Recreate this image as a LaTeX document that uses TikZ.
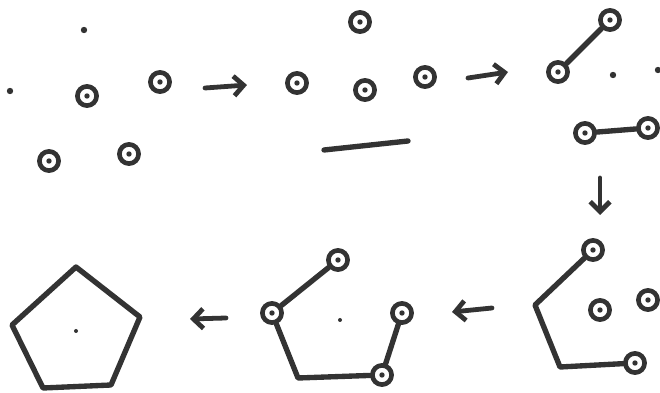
\documentclass[tikz,border=0pt]{standalone}
\usetikzlibrary{arrows.meta, positioning, calc}

\begin{document}
\begin{tikzpicture}[
  x=0.025cm, y=-0.025cm,
  line cap=round, line join=round,
  ink/.style={draw=black!80},
  ring/.style={circle, ink, line width=3.3pt, minimum size=0.48cm, inner sep=0pt,
               path picture={\fill[black!80] (path picture bounding box.center) circle (1.9pt);}},
  speck/.style={circle, fill=black!80, inner sep=0pt, minimum size=0.16cm},
  bond/.style={ink, line width=3.8pt},
  go/.style={ink, line width=3.4pt, -{Straight Barb[length=7pt, width=14pt]}}
]
\useasboundingbox (0,0) rectangle (660,393);

%--------------------------------------------------------------
% Stadio 1: punti sparsi
%--------------------------------------------------------------
\node[speck] (s1a) at (84,30) {};
\node[speck] (s1b) at (10,91) {};
\node[ring] (r1a) at (87,96) {};
\node[ring] (r1b) at (160,82) {};
\node[ring] (r1c) at (49,161) {};
\node[ring] (r1d) at (129,154) {};

%--------------------------------------------------------------
% Stadio 2: selezione
%--------------------------------------------------------------
\node[ring] (r2a) at (360,22) {};
\node[ring] (r2b) at (297,83) {};
\node[ring] (r2c) at (365,90) {};
\node[ring] (r2d) at (425,77) {};
\coordinate (d2a) at (324,150);
\coordinate (d2b) at (408,141);
\draw[bond] (d2a) -- (d2b);

%--------------------------------------------------------------
% Stadio 3: prime coppie
%--------------------------------------------------------------
\node[ring] (r3a) at (610,20) {};
\node[ring] (r3b) at (558,72) {};
\node[speck] (s3a) at (613,75) {};
\node[speck] (s3b) at (658,70) {};
\node[ring] (r3c) at (585,133) {};
\node[ring] (r3d) at (648,128) {};
\draw[bond] (r3b) -- (r3a);
\draw[bond] (r3c) -- (r3d);

%--------------------------------------------------------------
% Stadio 4: catena aperta
%--------------------------------------------------------------
\node[ring] (r4a) at (593,250) {};
\coordinate (k4a) at (535,305);
\coordinate (k4b) at (560,367);
\node[ring] (r4b) at (635,363) {};
\node[ring] (r4c) at (600,310) {};
\node[ring] (r4d) at (648,300) {};
\draw[bond] (r4a) -- (k4a) -- (k4b) -- (r4b);

%--------------------------------------------------------------
% Stadio 5: catena quasi chiusa
%--------------------------------------------------------------
\node[ring] (r5a) at (338,260) {};
\node[ring] (r5b) at (272,313) {};
\coordinate (k5) at (298,378);
\node[ring] (r5c) at (382,375) {};
\node[ring] (r5d) at (402,313) {};
\node[speck, minimum size=0.1cm] (s5) at (340,320) {};
\draw[bond] (r5a) -- (r5b) -- (k5) -- (r5c) -- (r5d);

%--------------------------------------------------------------
% Stadio 6: pentagono
%--------------------------------------------------------------
\coordinate (p1) at (76,267);
\coordinate (p2) at (140,317);
\coordinate (p3) at (111,385);
\coordinate (p4) at (43,388);
\coordinate (p5) at (12,325);
\node[speck, minimum size=0.1cm] (s6) at (76,331) {};
\draw[bond] (p1) -- (p2) -- (p3) -- (p4) -- (p5) -- cycle;

%--------------------------------------------------------------
% Frecce tra gli stadi
%--------------------------------------------------------------
\coordinate (a1s) at (205,88);  \coordinate (a1e) at (247,85);
\coordinate (a2s) at (468,78);  \coordinate (a2e) at (508,72);
\coordinate (a3s) at (600,178); \coordinate (a3e) at (600,215);
\coordinate (a4s) at (492,308); \coordinate (a4e) at (452,312);
\coordinate (a5s) at (226,318); \coordinate (a5e) at (190,319);
\draw[go] (a1s) -- (a1e);
\draw[go] (a2s) -- (a2e);
\draw[go] (a3s) -- (a3e);
\draw[go] (a4s) -- (a4e);
\draw[go] (a5s) -- (a5e);

\end{tikzpicture}
\end{document}
